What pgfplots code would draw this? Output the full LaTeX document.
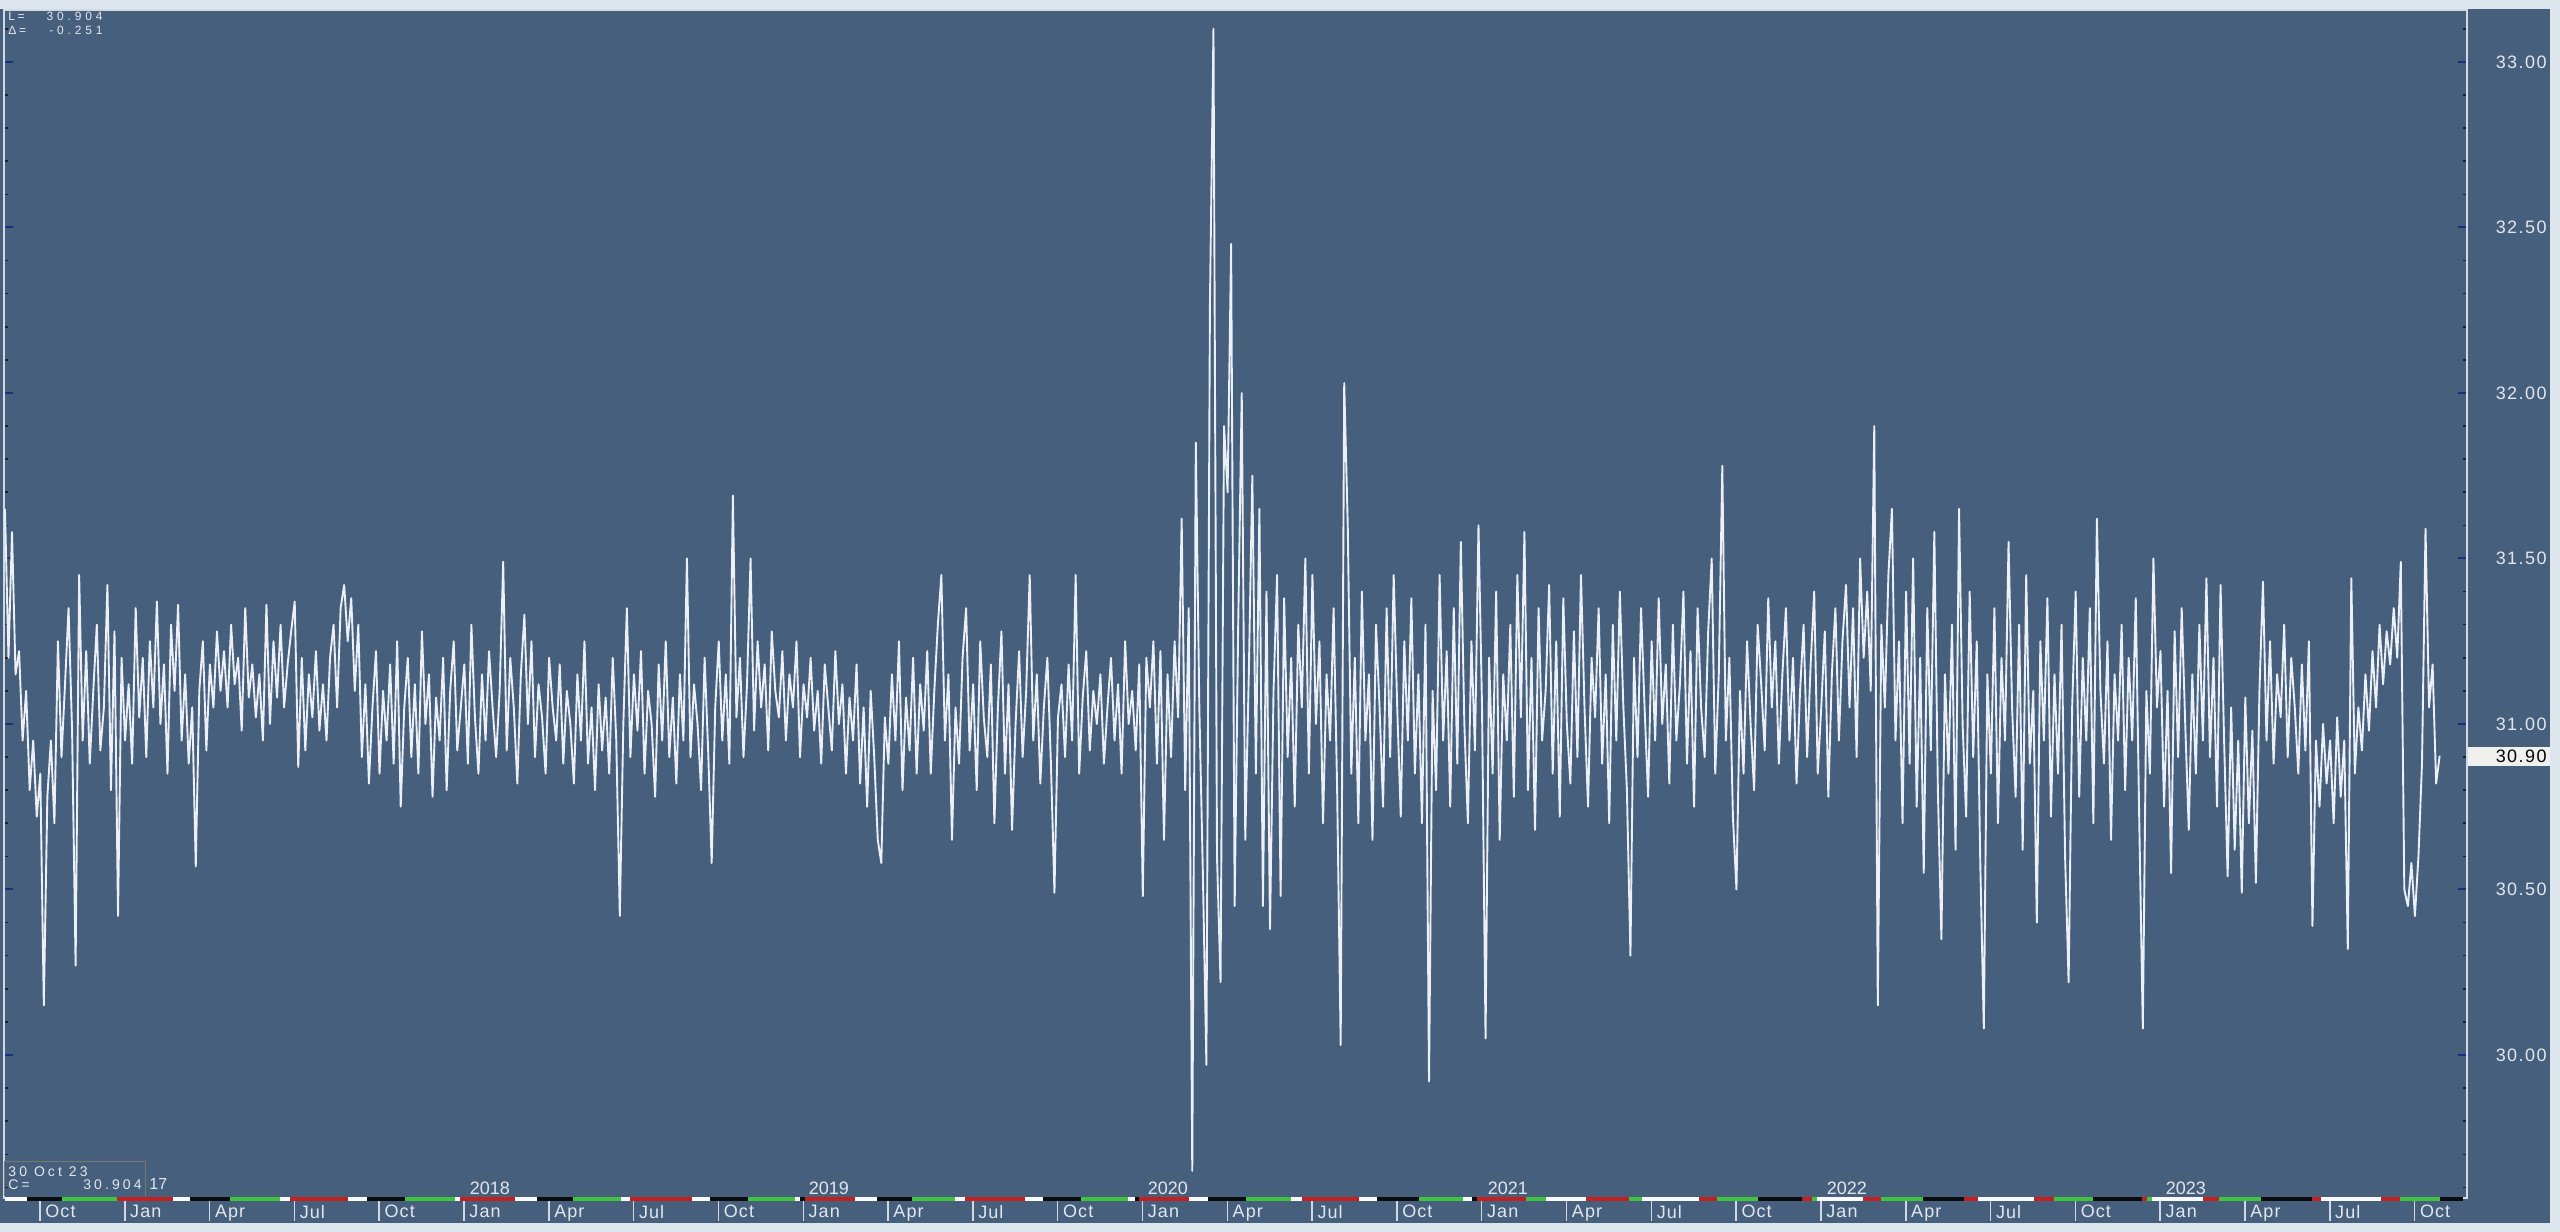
\documentclass[border=0pt]{standalone}
\usepackage{fontspec}
\setmainfont{Liberation Sans}
\newfontfamily\infofont[LetterSpace=22]{Liberation Sans}
\usepackage{pgfplots}
\usepackage{pgfplotstable}
\pgfplotsset{compat=1.18}
\definecolor{panel}{RGB}{70,95,125}
\definecolor{frame}{RGB}{221,229,237}
\definecolor{lbl}{RGB}{226,231,238}
\definecolor{linec}{RGB}{236,240,246}
\definecolor{gr}{RGB}{64,196,64}
\definecolor{rd}{RGB}{196,32,32}
\definecolor{bk}{RGB}{12,12,12}
\definecolor{wh}{RGB}{250,250,250}
\definecolor{majt}{RGB}{24,48,128}
\definecolor{mint}{RGB}{25,32,45}
\definecolor{bord}{RGB}{210,217,226}
\definecolor{boxb}{RGB}{120,120,110}
\definecolor{pricebg}{RGB}{240,240,238}

\pgfplotstableread[row sep=\\]{
y\\
31.65\\ 31.20\\ 31.58\\ 31.15\\ 31.22\\ 30.95\\ 31.10\\ 30.80\\ 30.95\\ 30.72\\
30.85\\ 30.15\\ 30.78\\ 30.95\\ 30.70\\ 31.25\\ 30.90\\ 31.12\\ 31.35\\ 30.98\\
30.27\\ 31.45\\ 30.95\\ 31.22\\ 30.88\\ 31.10\\ 31.30\\ 30.92\\ 31.05\\ 31.42\\
30.80\\ 31.28\\ 30.42\\ 31.20\\ 30.95\\ 31.12\\ 30.88\\ 31.35\\ 31.02\\ 31.20\\
30.90\\ 31.25\\ 31.05\\ 31.37\\ 31.00\\ 31.18\\ 30.85\\ 31.30\\ 31.10\\ 31.36\\
30.95\\ 31.15\\ 30.88\\ 31.05\\ 30.57\\ 31.10\\ 31.25\\ 30.92\\ 31.18\\ 31.05\\
31.28\\ 31.10\\ 31.22\\ 31.05\\ 31.30\\ 31.12\\ 31.20\\ 30.98\\ 31.35\\ 31.08\\
31.18\\ 31.02\\ 31.15\\ 30.95\\ 31.36\\ 31.00\\ 31.25\\ 31.08\\ 31.30\\ 31.05\\
31.18\\ 31.28\\ 31.37\\ 30.87\\ 31.20\\ 30.92\\ 31.15\\ 31.02\\ 31.22\\ 30.98\\
31.12\\ 30.95\\ 31.20\\ 31.30\\ 31.05\\ 31.35\\ 31.42\\ 31.25\\ 31.38\\ 31.10\\
31.30\\ 30.90\\ 31.12\\ 30.82\\ 31.05\\ 31.22\\ 30.85\\ 31.10\\ 30.95\\ 31.18\\
30.88\\ 31.25\\ 30.75\\ 31.05\\ 31.20\\ 30.90\\ 31.12\\ 30.85\\ 31.28\\ 31.00\\
31.15\\ 30.78\\ 31.08\\ 30.95\\ 31.20\\ 30.80\\ 31.10\\ 31.25\\ 30.92\\ 31.05\\
31.18\\ 30.88\\ 31.30\\ 31.02\\ 30.85\\ 31.15\\ 30.95\\ 31.22\\ 31.05\\ 30.90\\
31.10\\ 31.49\\ 30.92\\ 31.20\\ 31.05\\ 30.82\\ 31.15\\ 31.33\\ 31.00\\ 31.25\\
30.90\\ 31.12\\ 31.02\\ 30.85\\ 31.20\\ 31.05\\ 30.95\\ 31.18\\ 30.88\\ 31.10\\
31.00\\ 30.82\\ 31.15\\ 30.95\\ 31.25\\ 30.88\\ 31.05\\ 30.80\\ 31.12\\ 30.92\\
31.08\\ 30.85\\ 31.20\\ 30.95\\ 30.42\\ 31.00\\ 31.35\\ 30.90\\ 31.15\\ 30.98\\
31.22\\ 30.85\\ 31.10\\ 31.00\\ 30.78\\ 31.18\\ 30.95\\ 31.25\\ 30.90\\ 31.08\\
30.82\\ 31.15\\ 30.95\\ 31.50\\ 30.90\\ 31.12\\ 31.00\\ 30.80\\ 31.20\\ 30.92\\
30.58\\ 31.05\\ 31.25\\ 30.95\\ 31.15\\ 30.88\\ 31.69\\ 31.02\\ 31.20\\ 30.90\\
31.12\\ 31.50\\ 30.98\\ 31.25\\ 31.05\\ 31.18\\ 30.92\\ 31.28\\ 31.10\\ 31.02\\
31.22\\ 30.95\\ 31.15\\ 31.05\\ 31.25\\ 30.90\\ 31.12\\ 31.02\\ 31.20\\ 30.98\\
31.10\\ 30.88\\ 31.18\\ 31.05\\ 30.92\\ 31.22\\ 31.00\\ 31.12\\ 30.85\\ 31.08\\
30.95\\ 31.18\\ 30.82\\ 31.05\\ 30.75\\ 31.10\\ 30.90\\ 30.65\\ 30.58\\ 31.02\\
30.88\\ 31.15\\ 30.95\\ 31.25\\ 30.80\\ 31.08\\ 30.92\\ 31.20\\ 30.85\\ 31.12\\
30.98\\ 31.22\\ 30.85\\ 31.10\\ 31.30\\ 31.45\\ 30.95\\ 31.15\\ 30.65\\ 31.05\\
30.88\\ 31.20\\ 31.35\\ 30.92\\ 31.12\\ 30.80\\ 31.25\\ 31.02\\ 30.90\\ 31.18\\
30.70\\ 31.05\\ 31.28\\ 30.85\\ 31.12\\ 30.68\\ 31.00\\ 31.22\\ 30.90\\ 31.10\\
31.45\\ 30.95\\ 31.15\\ 30.82\\ 31.05\\ 31.20\\ 30.88\\ 30.49\\ 31.02\\ 31.12\\
30.90\\ 31.18\\ 30.95\\ 31.45\\ 30.85\\ 31.08\\ 31.22\\ 30.92\\ 31.10\\ 31.00\\
31.15\\ 30.88\\ 31.05\\ 31.20\\ 30.95\\ 31.12\\ 30.85\\ 31.25\\ 31.00\\ 31.10\\
30.92\\ 31.18\\ 30.48\\ 31.20\\ 31.05\\ 31.25\\ 30.88\\ 31.22\\ 30.65\\ 31.15\\
30.90\\ 31.25\\ 31.02\\ 31.62\\ 30.80\\ 31.35\\ 29.65\\ 31.85\\ 31.05\\ 30.55\\
29.97\\ 32.27\\ 33.10\\ 30.60\\ 30.22\\ 31.90\\ 31.70\\ 32.45\\ 30.45\\ 31.30\\
32.00\\ 30.65\\ 31.15\\ 31.75\\ 30.85\\ 31.65\\ 30.45\\ 31.40\\ 30.38\\ 31.10\\
31.45\\ 30.48\\ 31.38\\ 30.90\\ 31.20\\ 30.75\\ 31.30\\ 31.05\\ 31.50\\ 30.85\\
31.45\\ 31.00\\ 31.25\\ 30.70\\ 31.15\\ 30.95\\ 31.35\\ 30.80\\ 30.03\\ 32.03\\
31.60\\ 30.85\\ 31.20\\ 30.70\\ 31.40\\ 30.95\\ 31.15\\ 30.65\\ 31.30\\ 31.05\\
30.75\\ 31.35\\ 30.90\\ 31.45\\ 31.05\\ 30.72\\ 31.25\\ 30.95\\ 31.38\\ 30.85\\
31.15\\ 30.70\\ 31.30\\ 29.92\\ 31.10\\ 30.80\\ 31.45\\ 30.95\\ 31.22\\ 30.75\\
31.35\\ 30.88\\ 31.55\\ 31.00\\ 30.70\\ 31.25\\ 30.92\\ 31.60\\ 31.05\\ 30.05\\
31.20\\ 30.85\\ 31.40\\ 30.65\\ 31.15\\ 30.95\\ 31.30\\ 30.78\\ 31.45\\ 31.02\\
31.58\\ 30.80\\ 31.20\\ 30.68\\ 31.35\\ 30.95\\ 31.10\\ 31.42\\ 30.85\\ 31.25\\
30.72\\ 31.38\\ 31.00\\ 30.82\\ 31.28\\ 30.90\\ 31.45\\ 31.05\\ 30.75\\ 31.20\\
31.02\\ 31.35\\ 30.88\\ 31.15\\ 30.70\\ 31.30\\ 30.95\\ 31.40\\ 31.05\\ 30.80\\
30.30\\ 31.20\\ 30.90\\ 31.35\\ 31.05\\ 30.78\\ 31.25\\ 30.95\\ 31.38\\ 31.00\\
31.18\\ 30.82\\ 31.30\\ 30.95\\ 31.12\\ 31.40\\ 30.88\\ 31.22\\ 30.75\\ 31.35\\
31.05\\ 30.90\\ 31.28\\ 31.50\\ 30.85\\ 31.15\\ 31.78\\ 30.95\\ 31.20\\ 30.72\\
30.50\\ 31.10\\ 30.85\\ 31.25\\ 31.00\\ 30.80\\ 31.30\\ 31.12\\ 30.92\\ 31.38\\
31.05\\ 31.25\\ 30.88\\ 31.15\\ 31.35\\ 30.95\\ 31.20\\ 30.82\\ 31.10\\ 31.30\\
30.90\\ 31.18\\ 31.40\\ 30.85\\ 31.05\\ 31.28\\ 30.78\\ 31.15\\ 31.35\\ 30.95\\
31.25\\ 31.42\\ 31.05\\ 31.35\\ 30.90\\ 31.50\\ 31.20\\ 31.40\\ 31.10\\ 31.90\\
30.15\\ 31.30\\ 31.05\\ 31.45\\ 31.65\\ 30.95\\ 31.25\\ 30.70\\ 31.40\\ 30.88\\
31.50\\ 30.75\\ 31.20\\ 30.55\\ 31.35\\ 30.92\\ 31.58\\ 30.80\\ 30.35\\ 31.15\\
30.85\\ 31.30\\ 30.62\\ 31.65\\ 31.00\\ 30.72\\ 31.40\\ 30.90\\ 31.25\\ 30.58\\
30.08\\ 31.15\\ 30.85\\ 31.35\\ 30.70\\ 31.20\\ 30.95\\ 31.55\\ 31.05\\ 30.78\\
31.30\\ 30.62\\ 31.45\\ 30.88\\ 31.10\\ 30.40\\ 31.25\\ 30.95\\ 31.38\\ 30.72\\
31.15\\ 30.85\\ 31.30\\ 30.60\\ 30.22\\ 31.05\\ 31.40\\ 30.78\\ 31.20\\ 30.95\\
31.35\\ 30.70\\ 31.62\\ 31.10\\ 30.88\\ 31.25\\ 30.65\\ 31.15\\ 30.95\\ 31.30\\
30.80\\ 31.20\\ 30.95\\ 31.38\\ 30.70\\ 30.08\\ 31.10\\ 30.85\\ 31.50\\ 31.05\\
31.22\\ 30.75\\ 31.10\\ 30.55\\ 31.28\\ 30.90\\ 31.35\\ 31.00\\ 30.68\\ 31.15\\
30.85\\ 31.30\\ 30.95\\ 31.44\\ 30.90\\ 31.20\\ 30.75\\ 31.42\\ 30.95\\ 30.54\\
31.05\\ 30.62\\ 30.95\\ 30.49\\ 31.08\\ 30.70\\ 30.98\\ 30.52\\ 31.10\\ 31.43\\
30.95\\ 31.25\\ 30.88\\ 31.15\\ 31.02\\ 31.30\\ 30.90\\ 31.20\\ 31.05\\ 30.85\\
31.18\\ 30.92\\ 31.25\\ 30.39\\ 30.95\\ 30.75\\ 31.00\\ 30.82\\ 30.95\\ 30.70\\
31.02\\ 30.78\\ 30.95\\ 30.32\\ 31.44\\ 30.85\\ 31.05\\ 30.92\\ 31.15\\ 30.98\\
31.22\\ 31.05\\ 31.30\\ 31.12\\ 31.28\\ 31.18\\ 31.35\\ 31.20\\ 31.49\\ 30.50\\
30.45\\ 30.58\\ 30.42\\ 30.60\\ 30.88\\ 31.59\\ 31.05\\ 31.18\\ 30.82\\ 30.904\\
}\datatable

\begin{document}
\begin{tikzpicture}
% background (pixel coordinates, origin top-left)
\begin{scope}[x=0.5bp,y=-0.5bp,shift={(0,616bp)}]
  \fill[frame] (0,0) rectangle (2560,1232);
  \fill[panel] (0,9) rectangle (2550,1223);
\end{scope}

\begin{axis}[
  at={(2bp,17bp)}, anchor=south west,
  scale only axis, width=1231.5bp, height=594bp,
  xmin=7.7265, xmax=94.851, ymin=29.568, ymax=33.157,
  axis line style={draw=bord, line width=1bp},
  tick align=inside, xtick pos=left, ytick pos=both,
  yticklabel pos=right,
  xtick={9,12,...,93},
  xticklabels={Oct,Jan,Apr,Jul,Oct,Jan,Apr,Jul,Oct,Jan,Apr,Jul,Oct,Jan,Apr,Jul,Oct,Jan,Apr,Jul,Oct,Jan,Apr,Jul,Oct,Jan,Apr,Jul,Oct},
  major x tick style={draw=none},
  ytick={30,30.5,31,31.5,32,32.5,33},
  minor ytick={29.6,29.7,29.8,29.9,30.1,30.2,30.3,30.4,30.6,30.7,30.8,30.9,31.1,31.2,31.3,31.4,31.6,31.7,31.8,31.9,32.1,32.2,32.3,32.4,32.6,32.7,32.8,32.9,33.1},
  major tick length=4.5bp, minor tick length=2bp,
  major y tick style={draw=majt, line width=1bp},
  minor y tick style={draw=mint, line width=0.8bp},
  yticklabel style={anchor=east, xshift=40bp, inner sep=0pt, text=lbl,
    font=\addfontfeatures{LetterSpace=8}\fontsize{9bp}{10bp}\selectfont,
    /pgf/number format/.cd, fixed, fixed zerofill, precision=2, assume math mode=true},
  xticklabel style={anchor=north west, inner sep=0pt, xshift=2.5bp, yshift=-3.5bp, text=lbl,
    font=\addfontfeatures{LetterSpace=6}\fontsize{9bp}{10bp}\selectfont},
  clip=true,
]
\addplot[linec, line width=0.95bp, line join=round] table[x expr={7.76+0.125*\coordindex}, y=y] {\datatable};
\end{axis}

\begin{scope}[x=0.5bp,y=-0.5bp,shift={(0,616bp)}]
  % year labels
  \foreach \px/\yr in {490/2018,829/2019,1168/2020,1508/2021,1847/2022,2186/2023}
    \node[anchor=base, inner sep=0pt, text=lbl, font=\fontsize{9bp}{10bp}\selectfont] at (\px,1195) {\yr};
  % visible tail of the 2017 label, right of the info box
  \node[anchor=base west, inner sep=0pt, text=lbl, font=\fontsize{8bp}{9bp}\selectfont] at (149,1190) {17};
  % colour strip
  \foreach \a/\b/\c in {5/27/wh,27/62/bk,62/117/gr,117/173/rd,173/190/wh,190/230/bk,230/280/gr,280/290/wh,290/348/rd,348/367/wh,367/405/bk,405/455/gr,455/460/wh,460/515/rd,515/537/wh,537/573/bk,573/621/gr,621/630/wh,630/692/rd,692/710/wh,710/748/bk,748/795/gr,795/800/wh,800/805/bk,805/855/rd,855/877/wh,877/912/bk,912/955/gr,955/965/wh,965/1025/rd,1025/1043/wh,1043/1081/bk,1081/1128/gr,1128/1135/wh,1135/1139/bk,1139/1189/rd,1189/1208/wh,1208/1246/bk,1246/1291/gr,1291/1302/wh,1302/1359/rd,1359/1377/wh,1377/1419/bk,1419/1463/gr,1463/1472/wh,1472/1477/bk,1477/1526/rd,1526/1546/gr,1546/1586/wh,1586/1629/rd,1629/1642/gr,1642/1699/wh,1699/1717/rd,1717/1758/gr,1758/1802/bk,1802/1812/rd,1812/1817/gr,1817/1863/wh,1863/1881/rd,1881/1923/gr,1923/1964/bk,1964/1978/rd,1978/2034/wh,2034/2054/rd,2054/2093/gr,2093/2142/bk,2142/2147/rd,2147/2152/gr,2152/2203/wh,2203/2219/rd,2219/2261/gr,2261/2312/bk,2312/2321/rd,2321/2381/wh,2381/2400/rd,2400/2440/gr,2440/2463/bk}
    \fill[\c] (\a,1197) rectangle (\b,1201.5);
  % month tick lines
  \foreach \k in {0,...,28}
    \draw[bord, line width=0.75bp] ({40+84.81*\k},1201.5) -- ({40+84.81*\k},1221);
  % bottom-left info box
  \draw[boxb, line width=0.5bp] (5,1196.5) -- (5,1162) -- (146,1162) -- (146,1196.5);
  \node[anchor=base west, inner sep=0pt, text=lbl, font=\infofont\fontsize{7bp}{8bp}\selectfont] at (8,1177) {30 Oct 23};
  \node[anchor=base west, inner sep=0pt, text=lbl, font=\infofont\fontsize{7bp}{8bp}\selectfont] at (8,1190) {C=};
  \node[anchor=base east, inner sep=0pt, text=lbl, font=\infofont\fontsize{7bp}{8bp}\selectfont] at (142,1190) {30.904};
  % top-left info
  \node[anchor=base west, inner sep=0pt, text=lbl, font=\infofont\fontsize{6bp}{7bp}\selectfont] at (8,21) {L=};
  \node[anchor=base east, inner sep=0pt, text=lbl, font=\addfontfeatures{LetterSpace=32}\fontsize{6bp}{7bp}\selectfont] at (103,21) {30.904};
  \node[anchor=base west, inner sep=0pt, text=lbl, font=\infofont\fontsize{6bp}{7bp}\selectfont] at (8,35) {Δ=};
  \node[anchor=base east, inner sep=0pt, text=lbl, font=\addfontfeatures{LetterSpace=32}\fontsize{6bp}{7bp}\selectfont] at (103,35) {-0.251};
  % last price box
  \fill[pricebg] (2468,747) rectangle (2550,766);
  \node[anchor=east, inner sep=0pt, text=black, font=\addfontfeatures{LetterSpace=8}\fontsize{9bp}{10bp}\selectfont] at (2547,756.5) {30.90};
\end{scope}
\pgfresetboundingbox
\useasboundingbox (0,0) rectangle (1280bp,616bp);
\end{tikzpicture}
\end{document}
